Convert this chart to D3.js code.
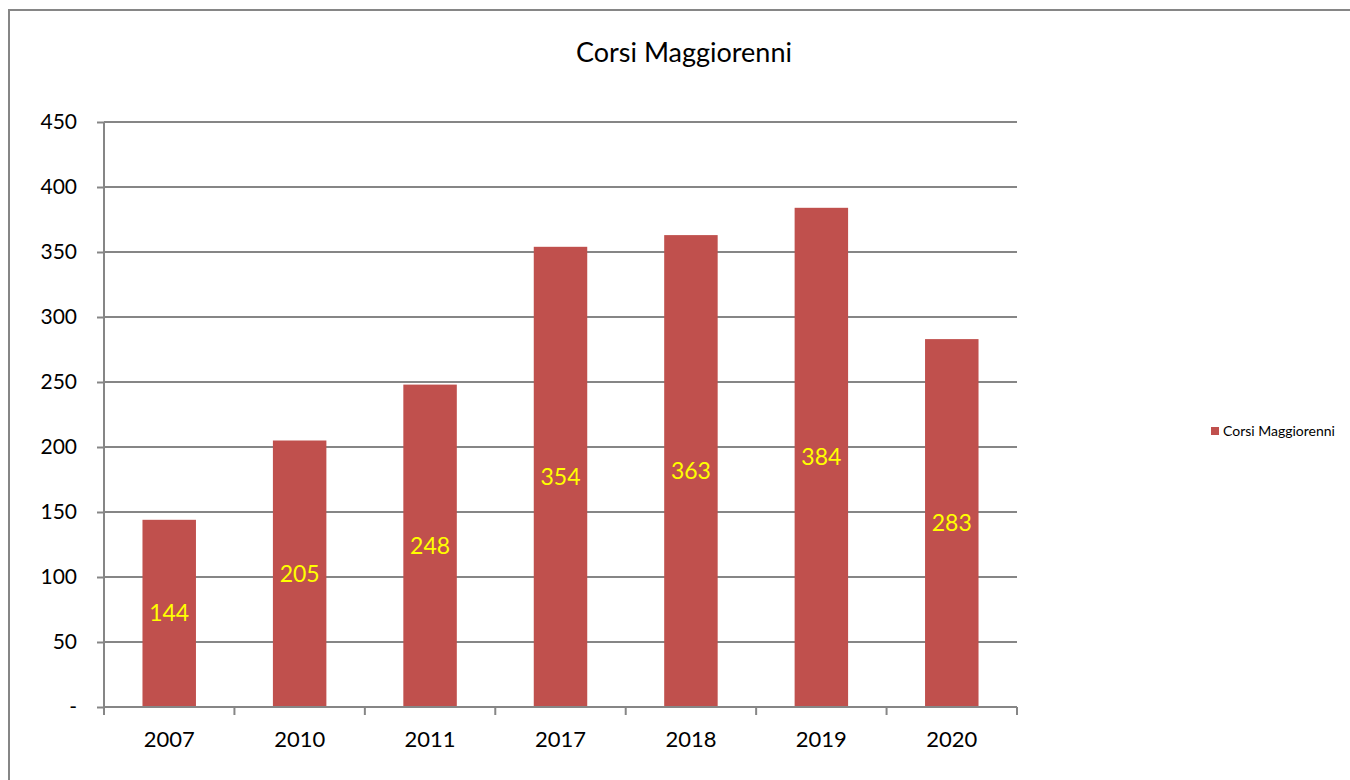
<!DOCTYPE html>
<html><head><meta charset="utf-8">
<script src="https://cdn.jsdelivr.net/npm/d3@7/dist/d3.min.js"></script>
<style>body{margin:0;background:#fff;font-family:Lato,"Open Sans",sans-serif;}</style>
</head><body>
<svg id="c" width="1350" height="780"></svg>
<script>
const categories = ["2007","2010","2011","2017","2018","2019","2020"];
const values = [144,205,248,354,363,384,283];
const yTicks = [0,50,100,150,200,250,300,350,400,450];
const seriesName = "Corsi Maggiorenni";
const titleText = "Corsi Maggiorenni";

const svg = d3.select("#c");
const font = "Lato, 'Open Sans', sans-serif";
// chart border
svg.append("rect").attr("x",9).attr("y",10).attr("width",1360).attr("height",800)
  .attr("fill","#fff").attr("stroke","#868686").attr("stroke-width",2);

const m = {l:104, r:1017, t:122, b:707};
const x = d3.scaleBand().domain(categories).range([m.l,m.r]).paddingInner(0.59).paddingOuter(0.295);
const y = d3.scaleLinear().domain([0,450]).range([m.b,m.t]);

// gridlines
svg.append("g").selectAll("line").data(yTicks.filter(d=>d>0)).join("line")
  .attr("x1",m.l).attr("x2",m.r).attr("y1",d=>y(d)).attr("y2",d=>y(d))
  .attr("stroke","#868686").attr("stroke-width",2);

// y axis
const ya = svg.append("g").attr("transform",`translate(${m.l},0)`)
  .call(d3.axisLeft(y).tickValues(yTicks).tickSize(7).tickPadding(20).tickFormat(d=>d===0?"-":d));
ya.select(".domain").attr("stroke","#868686").attr("stroke-width",2).attr("d",`M0,${m.t}V${m.b}`);
ya.selectAll(".tick line").attr("stroke","#868686").attr("stroke-width",2);
ya.selectAll(".tick text").attr("font-family",font).attr("font-size",21).attr("fill","#000");

// bars
svg.append("g").selectAll("rect").data(values).join("rect")
  .attr("x",(d,i)=>x(categories[i])).attr("width",x.bandwidth())
  .attr("y",d=>y(d)).attr("height",d=>m.b-y(d)).attr("fill","#C0504D");

// x axis
const step = x.step();
const xa = svg.append("g").attr("transform",`translate(0,${m.b})`)
  .call(d3.axisBottom(x).tickSize(0).tickPadding(24));
xa.select(".domain").attr("stroke","#868686").attr("stroke-width",2).attr("d",`M${m.l},0H${m.r}`);
xa.selectAll(".tick text").attr("font-family",font).attr("font-size",22).attr("fill","#000");
const bounds = d3.range(categories.length+1).map(i=>m.l+i*step);
xa.append("g").selectAll("line").data(bounds).join("line")
  .attr("x1",d=>d).attr("x2",d=>d).attr("y1",0).attr("y2",8)
  .attr("stroke","#868686").attr("stroke-width",2);

// data labels
svg.append("g").selectAll("text").data(values).join("text")
  .attr("x",(d,i)=>x(categories[i])+x.bandwidth()/2)
  .attr("y",d=>y(d/2)).attr("dy","0.35em").attr("text-anchor","middle")
  .attr("font-family",font).attr("font-size",23).attr("fill","#FFFF00").text(d=>d);

// title
svg.append("text").attr("x",684).attr("y",62).attr("text-anchor","middle")
  .attr("font-family",font).attr("font-size",27).attr("fill","#000").text(titleText);

// legend
svg.append("rect").attr("x",1211).attr("y",427).attr("width",8).attr("height",8).attr("fill","#C0504D");
svg.append("text").attr("x",1223).attr("y",436).attr("font-family",font).attr("font-size",14)
  .attr("fill","#000").text(seriesName);
</script>
</body></html>
